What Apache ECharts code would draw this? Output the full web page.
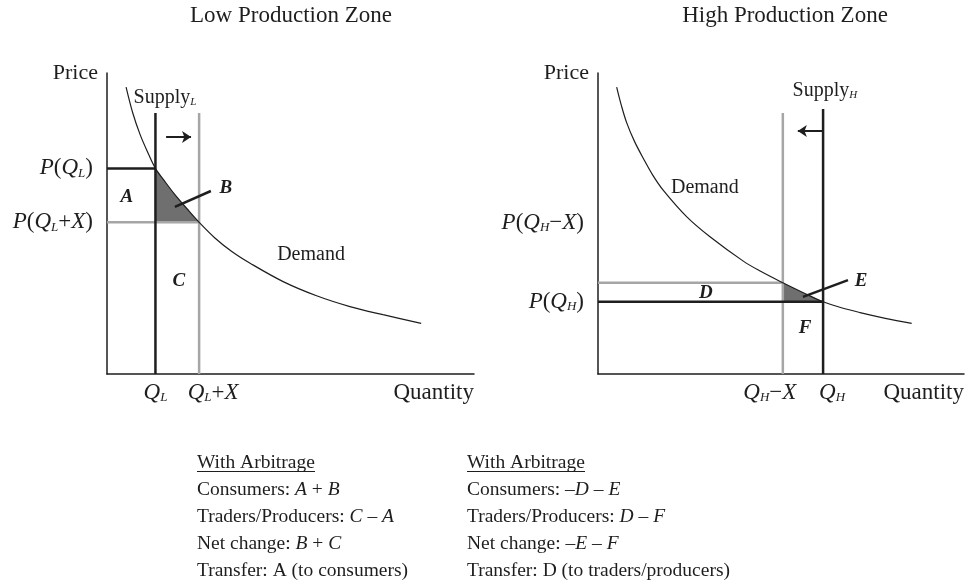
<!DOCTYPE html>
<html>
<head>
<meta charset="utf-8">
<script src="https://cdn.jsdelivr.net/npm/echarts@6/dist/echarts.min.js"></script>
<style>
  html, body { margin: 0; padding: 0; background: #fff; }
  #chart { width: 968px; height: 584px; }
</style>
</head>
<body>
<div id="chart"></div>
<script>
// values; both panels use axes that run 0..100
var demandLow = [[5.2,95.3],[7.0,86.8],[9.0,79.6],[11.0,73.9],[13.2,68.3],[15.8,63.9],[18.5,59.6],[21.8,54.9],[25.1,50.4],[29.4,45.2],[34.0,40.7],[39.0,36.8],[48.0,30.7],[57.1,26.0],[66.2,22.4],[75.2,19.7],[85.6,16.8]];
var demandHigh = [[5.1,95.3],[6.3,89.6],[7.8,83.6],[10.0,77.2],[12.4,71.6],[15.0,66.0],[17.8,61.1],[24.2,52.3],[30.6,45.6],[39.7,37.5],[44.3,34.2],[50.5,30.3],[56.1,27.0],[61.5,24.0],[66.5,22.0],[71.6,20.4],[78.5,18.5],[85.7,16.8]];

var qLow = [13.2, 25.1];        // Q_L, Q_L+X
var pLow = [68.3, 50.4];        // P(Q_L), P(Q_L+X)
var supplyTopLow = [86.7, 86.7];
var qHigh = [61.5, 50.5];       // Q_H, Q_H-X
var pHigh = [24.0, 30.3];       // P(Q_H), P(Q_H-X)
var supplyTopHigh = [88.0, 86.7];

var yTickLow = [68.3, 50.4];
var yTickTextLow = ['{i|P}{t|(}{i|Q}{s|L}{t|)}', '{i|P}{t|(}{i|Q}{s|L}{t|+}{i|X}{t|)}'];
var yTickHigh = [50.2, 24.0];
var yTickTextHigh = ['{i|P}{t|(}{i|Q}{s|H}{t|−}{i|X}{t|)}', '{i|P}{t|(}{i|Q}{s|H}{t|)}'];
var xTickLow = [13.2, 25.1];
var xTickTextLow = ['{i|Q}{s|L}', '{ip|Q}{s|L}{t|+}{i|X}'];
var xTickHigh = [50.5, 61.5];
var xTickTextHigh = ['{i|Q}{s|H}{t|−}{ir|X}', '{iq|Q}{s|H}'];

var summaryLow = ['With Arbitrage', 'Consumers: {i|A} + {i|B}', 'Traders/Producers: {i|C} – {i|A}', 'Net change: {i|B} + {i|C}', 'Transfer: A (to consumers)'];
var summaryHigh = ['With Arbitrage', 'Consumers: –{i|D} – {i|E}', 'Traders/Producers: {i|D} – {i|F}', 'Net change: –{i|E} – {i|F}', 'Transfer: D (to traders/producers)'];

var SERIF = 'Liberation Serif';
var INK = '#1e1e1e';
var GREY = '#a6a6a6';
var SHADE = '#6f6f6f';
var FS = 23;

var rich = {
  t: { fontFamily: SERIF, fontSize: FS, color: INK },
  i: { fontFamily: SERIF, fontSize: FS, fontStyle: 'italic', color: INK },
  ip: { fontFamily: SERIF, fontSize: FS, fontStyle: 'italic', color: INK, padding: [0, 0, 0, 28] },
  iq: { fontFamily: SERIF, fontSize: FS, fontStyle: 'italic', color: INK, padding: [0, 0, 0, 18] },
  ir: { fontFamily: SERIF, fontSize: FS, fontStyle: 'italic', color: INK, padding: [0, 26, 0, 0] },
  s: { fontFamily: SERIF, fontSize: 13, fontStyle: 'italic', color: INK, lineHeight: 8, verticalAlign: 'bottom' }
};

function pick(values, texts) {
  return function (v) {
    var k = values.indexOf(v);
    return k < 0 ? '' : texts[k];
  };
}

function xAxisFor(grid, ticks, texts) {
  return {
    gridIndex: grid, type: 'value', min: 0, max: 100,
    axisLine: { show: true, onZero: false, lineStyle: { color: INK, width: 1.5 } },
    axisTick: { show: false }, splitLine: { show: false },
    axisLabel: { customValues: ticks, formatter: pick(ticks, texts), margin: 7, rich: rich },
    name: 'Quantity', nameLocation: 'end', nameGap: 0,
    nameTextStyle: { fontFamily: SERIF, fontSize: FS, color: INK, align: 'right', verticalAlign: 'top', padding: [7, 0, 0, 0] }
  };
}
function yAxisFor(grid, ticks, texts) {
  return {
    gridIndex: grid, type: 'value', min: 0, max: 100,
    axisLine: { show: true, onZero: false, lineStyle: { color: INK, width: 1.5 } },
    axisTick: { show: false }, splitLine: { show: false },
    axisLabel: { customValues: ticks, formatter: pick(ticks, texts), margin: 14, rich: rich },
    name: 'Price', nameLocation: 'end', nameGap: 0,
    nameTextStyle: { fontFamily: SERIF, fontSize: 22, color: INK, align: 'right', verticalAlign: 'middle', padding: [0, 9, 0, 0] }
  };
}

function line(grid, data, color, width, z) {
  return {
    type: 'line', xAxisIndex: grid, yAxisIndex: grid, data: data,
    symbol: 'none', silent: true, z: z || 3,
    lineStyle: { color: color, width: width }
  };
}
function demand(grid, data) {
  var s = line(grid, data, INK, 1.2, 4);
  s.smooth = 0.35;
  return s;
}
// shaded wedge between demand and the two price / quantity lines
function wedge(grid, pts) {
  return {
    type: 'custom', xAxisIndex: grid, yAxisIndex: grid, data: [[0, 0]], silent: true, z: 2,
    renderItem: function (params, api) {
      return { type: 'polygon', shape: { points: pts.map(function (p) { return api.coord(p); }) }, style: { fill: SHADE } };
    }
  };
}
function arrow(from, to) {
  return {
    silent: true, symbol: ['none', 'arrow'], symbolSize: [9, 9],
    lineStyle: { color: INK, width: 2, type: 'solid' }, label: { show: false },
    data: [[{ coord: from }, { coord: to }]]
  };
}
function notes(grid, items) {
  return {
    type: 'scatter', xAxisIndex: grid, yAxisIndex: grid, symbolSize: 0, silent: true, z: 5,
    itemStyle: { opacity: 1 },
    data: items.map(function (n) {
      return { value: n.at, name: n.text, label: { show: true, position: 'inside', opacity: 1, formatter: n.text, rich: n.rich || rich, fontFamily: SERIF, fontSize: n.size, fontStyle: n.style || 'normal', fontWeight: n.weight || 'normal', color: INK } };
    })
  };
}

var wedgeB = demandLow.filter(function (p) { return p[0] >= qLow[0] && p[0] <= qLow[1]; }).concat([[qLow[0], pLow[1]]]);
var wedgeE = demandHigh.filter(function (p) { return p[0] >= qHigh[1] && p[0] <= qHigh[0]; }).concat([[qHigh[1], pHigh[0]]]);

var supplyRich = {
  t: { fontFamily: SERIF, fontSize: 20, color: INK },
  s: { fontFamily: SERIF, fontSize: 11, fontStyle: 'italic', color: INK, lineHeight: 6, verticalAlign: 'bottom' }
};

var blackLow = line(0, [[qLow[0], 0], [qLow[0], supplyTopLow[0]]], INK, 2.5, 3);
blackLow.markLine = arrow([16.1, 78.7], [22.9, 78.7]);
var blackHigh = line(1, [[qHigh[0], 0], [qHigh[0], supplyTopHigh[0]]], INK, 2.5, 3);
blackHigh.markLine = arrow([qHigh[0], 80.7], [54.6, 80.7]);

var chart = echarts.init(document.getElementById('chart'), null, { renderer: 'canvas' });
chart.setOption({
  animation: false,
  backgroundColor: '#fff',
  textStyle: { fontFamily: SERIF },
  grid: [
    { left: 107, top: 73, width: 367, height: 301, outerBoundsMode: 'none' },
    { left: 598, top: 73, width: 366, height: 301, outerBoundsMode: 'none' }
  ],
  xAxis: [xAxisFor(0, xTickLow, xTickTextLow), xAxisFor(1, xTickHigh, xTickTextHigh)],
  yAxis: [yAxisFor(0, yTickLow, yTickTextLow), yAxisFor(1, yTickHigh, yTickTextHigh)],
  series: [
    wedge(0, wedgeB),
    demand(0, demandLow),
    line(0, [[0, pLow[1]], [qLow[1], pLow[1]]], GREY, 2.5, 3),
    line(0, [[qLow[1], 0], [qLow[1], supplyTopLow[1]]], GREY, 2.5, 3),
    line(0, [[0, pLow[0]], [qLow[0], pLow[0]]], INK, 2.5, 3),
    blackLow,
    line(0, [[18.5, 55.5], [28.3, 60.8]], INK, 2.5, 4),
    notes(0, [
      { text: 'A', at: [5.4, 58.8], size: 19, style: 'italic', weight: 'bold' },
      { text: 'B', at: [32.4, 61.8], size: 19, style: 'italic', weight: 'bold' },
      { text: 'C', at: [19.6, 30.9], size: 19, style: 'italic', weight: 'bold' },
      { text: 'Demand', at: [55.6, 39.5], size: 20 },
      { text: '{t|Supply}{s|L}', at: [15.8, 91.9], size: 20, rich: supplyRich }
    ]),
    wedge(1, wedgeE),
    demand(1, demandHigh),
    line(1, [[0, pHigh[1]], [qHigh[1], pHigh[1]]], GREY, 2.5, 3),
    line(1, [[qHigh[1], 0], [qHigh[1], supplyTopHigh[1]]], GREY, 2.5, 3),
    line(1, [[0, pHigh[0]], [qHigh[0], pHigh[0]]], INK, 2.5, 3),
    blackHigh,
    line(1, [[56.0, 25.6], [68.3, 31.2]], INK, 2.5, 4),
    notes(1, [
      { text: 'D', at: [29.5, 26.9], size: 19, style: 'italic', weight: 'bold' },
      { text: 'E', at: [71.9, 30.9], size: 19, style: 'italic', weight: 'bold' },
      { text: 'F', at: [56.6, 15.3], size: 19, style: 'italic', weight: 'bold' },
      { text: 'Demand', at: [29.2, 61.8], size: 20 },
      { text: '{t|Supply}{s|H}', at: [62.0, 94.2], size: 20, rich: supplyRich }
    ])
  ],
  graphic: (function () {
    var g = [];
    var titleStyle = { fontFamily: SERIF, fontSize: 23, fill: INK, align: 'center', verticalAlign: 'middle' };
    g.push({ type: 'text', x: 291, y: 16, style: Object.assign({ text: 'Low Production Zone' }, titleStyle) });
    g.push({ type: 'text', x: 785, y: 16, style: Object.assign({ text: 'High Production Zone' }, titleStyle) });
    var bodyRich = { i: { fontFamily: SERIF, fontSize: 19.5, fontStyle: 'italic', fill: INK } };
    [[197, summaryLow], [467, summaryHigh]].forEach(function (blk) {
      blk[1].forEach(function (txt, k) {
        g.push({ type: 'text', x: blk[0], y: 463 + k * 27, style: { text: txt, fontFamily: SERIF, fontSize: 19.5, fill: INK, align: 'left', verticalAlign: 'middle', rich: bodyRich } });
      });
      g.push({ type: 'line', shape: { x1: blk[0], y1: 471.5, x2: blk[0] + 118, y2: 471.5 }, style: { stroke: INK, lineWidth: 1 } });
    });
    return g;
  })()
});
</script>
</body>
</html>
